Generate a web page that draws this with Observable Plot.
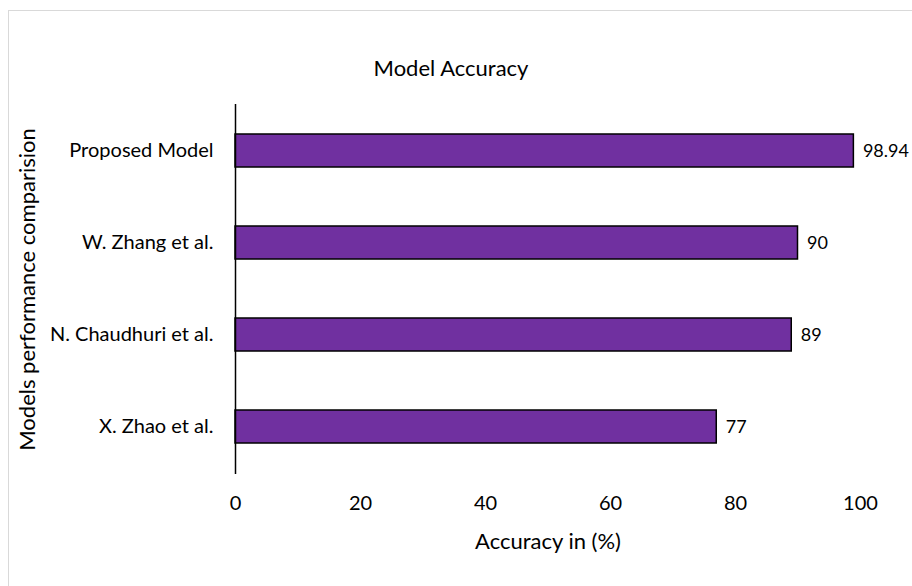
<!DOCTYPE html>
<html>
<head>
<meta charset="utf-8">
<script src="https://cdn.jsdelivr.net/npm/d3@7"></script>
<script src="https://cdn.jsdelivr.net/npm/@observablehq/plot@0.6"></script>
<style>
  html, body { margin: 0; padding: 0; background: #fff; overflow: hidden; }
  #wrap { position: relative; width: 912px; height: 586px; overflow: hidden; }
  #border { position: absolute; left: 8px; top: 10px; width: 1000px; height: 1000px; border: 1px solid #d9d9d9; box-sizing: border-box; pointer-events: none; }
  #chart { position: absolute; left: 0; top: 0; }
</style>
</head>
<body>
<div id="wrap"><div id="border"></div><div id="chart"></div></div>
<script>
const models = ["Proposed Model", "W. Zhang et al.", "N. Chaudhuri et al.", "X. Zhao et al."];
const accuracy = [98.94, 90, 89, 77];
const valueLabels = ["98.94", "90", "89", "77"];
const xTicks = [0, 20, 40, 60, 80, 100];
const title = "Model Accuracy";
const xTitle = "Accuracy in (%)";
const yTitle = "Models performance comparision";

const data = models.map((m, i) => ({model: m, acc: accuracy[i], label: valueLabels[i]}));

const chart = Plot.plot({
  width: 912,
  height: 586,
  marginLeft: 235,
  marginRight: 52,
  marginTop: 104,
  marginBottom: 112,
  style: {fontFamily: "Lato, 'Open Sans', sans-serif", fontSize: "20px", color: "#000", background: "transparent"},
  x: {domain: [0, 100], ticks: xTicks, label: null},
  y: {domain: models, paddingInner: 0.64, paddingOuter: 0.32, label: null},
  marks: [
    Plot.barX(data, {x: "acc", y: "model", fill: "#7030A0", stroke: "#000", strokeWidth: 1.5}),
    Plot.text(data, {x: "acc", y: "model", text: "label", textAnchor: "start", dx: 9, fontSize: 18, fill: "#000"}),
    Plot.ruleX([0], {stroke: "#000", strokeWidth: 1.5}),
    Plot.axisX({ticks: xTicks, tickSize: 0, tickPadding: 21, fontSize: 20, label: xTitle, labelAnchor: "center", labelOffset: 74, labelArrow: "none"}),
    Plot.axisY({tickSize: 0, tickPadding: 22, fontSize: 20, label: yTitle, labelAnchor: "center", labelOffset: 216, labelArrow: "none"}),
    Plot.text([title], {frameAnchor: "top", dx: -97, dy: -44, fontSize: 22, fill: "#000"})
  ]
});
chart.querySelectorAll("g[aria-label='x-axis label'] text, g[aria-label='y-axis label'] text").forEach(t => t.setAttribute("font-size", "22"));
document.getElementById("chart").appendChild(chart);
</script>
</body>
</html>
